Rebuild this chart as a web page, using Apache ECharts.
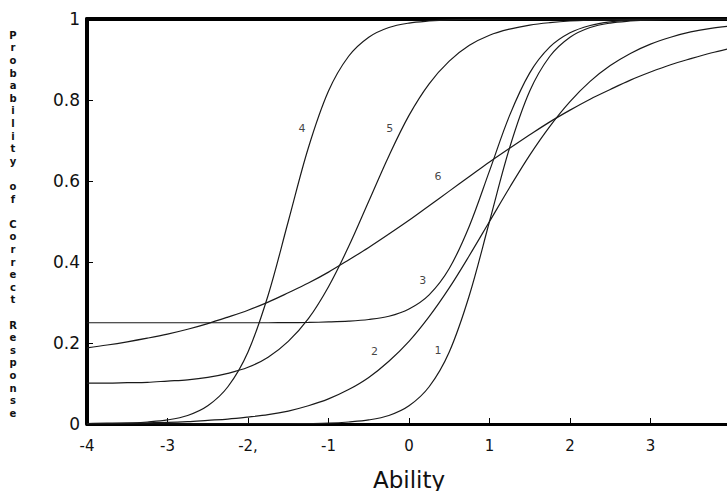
<!DOCTYPE html>
<html>
<head>
<meta charset="utf-8">
<script src="https://cdn.jsdelivr.net/npm/echarts@6/dist/echarts.min.js"></script>
<style>
html,body{margin:0;padding:0;background:#fff;}
#chart{width:727px;height:491px;}
</style>
</head>
<body>
<div id="chart"></div>
<script>
// Ability grid (x values of the sampled points)
var theta = [-4,-3.75,-3.5,-3.25,-3,-2.75,-2.5,-2.25,-2,-1.75,-1.5,-1.25,-1,-0.75,-0.5,-0.25,0,0.25,0.5,0.75,1,1.25,1.5,1.75,2,2.25,2.5,2.75,3,3.25,3.5,3.75,4];

// Probability of correct response
var item1 = [0,0,0,0,0,0,0,0,0.0001,0.0002,0.0005,0.001,0.002,0.005,0.010,0.021,0.045,0.092,0.178,0.318,0.5,0.682,0.822,0.908,0.955,0.979,0.990,0.995,0.998,0.999,0.9995,1,1];
var item2 = [0.001,0.002,0.002,0.003,0.004,0.006,0.009,0.012,0.017,0.023,0.032,0.045,0.062,0.085,0.115,0.155,0.204,0.265,0.336,0.416,0.5,0.584,0.664,0.735,0.796,0.846,0.885,0.915,0.938,0.955,0.968,0.977,0.983];
var item3 = [0.25,0.25,0.25,0.25,0.25,0.25,0.25,0.25,0.25,0.25,0.2504,0.2508,0.252,0.254,0.258,0.266,0.284,0.319,0.384,0.489,0.625,0.762,0.867,0.931,0.966,0.984,0.993,0.997,0.998,0.999,1,1,1];
var item4 = [0.0005,0.001,0.002,0.005,0.010,0.021,0.045,0.092,0.178,0.318,0.5,0.682,0.822,0.908,0.955,0.979,0.990,0.995,0.998,0.999,0.9995,1,1,1,1,1,1,1,1,1,1,1,1];
var item5 = [0.101,0.101,0.102,0.103,0.106,0.109,0.115,0.125,0.140,0.165,0.204,0.260,0.339,0.438,0.55,0.662,0.762,0.840,0.896,0.935,0.960,0.975,0.985,0.991,0.995,0.997,0.998,0.999,0.999,1,1,1,1];
var item6 = [0.188,0.195,0.203,0.212,0.222,0.234,0.248,0.264,0.281,0.301,0.324,0.348,0.375,0.405,0.436,0.469,0.503,0.539,0.575,0.611,0.647,0.681,0.714,0.746,0.775,0.802,0.826,0.849,0.869,0.887,0.902,0.916,0.928];

// Curve number labels: [ability, probability, text]
var curveLabels = [[0.36,0.181,'1'],[-0.43,0.179,'2'],[0.17,0.354,'3'],[-1.33,0.73,'4'],[-0.24,0.73,'5'],[0.36,0.612,'6']];

// Tick labels (the label at 4 falls outside the picture in the reference)
var xTickValues = [-4,-3,-2,-1,0,1,2,3];
var xTickLabels = ['-4','-3','-2,','-1','0','1','2','3'];
var yTickValues = [0,0.2,0.4,0.6,0.8,1];
var yTickLabels = ['0','0.2','0.4','0.6','0.8','1'];

var xTitle = 'Ability';
var yTitle = 'Probability of Correct Response';

var allItems = [item1,item2,item3,item4,item5,item6];

function pairs(arr){
  var out = [];
  for (var i = 0; i < theta.length; i++) out.push([theta[i], arr[i]]);
  return out;
}

var series = allItems.map(function(arr, k){
  return {
    type: 'line',
    name: 'Item ' + (k+1),
    data: pairs(arr),
    smooth: 0.35,
    showSymbol: false,
    symbol: 'none',
    lineStyle: {color: '#1a1a1a', width: 1.2},
    z: 3,
    silent: true,
    animation: false
  };
});

series.push({
  type: 'scatter',
  data: curveLabels,
  symbolSize: 0,
  silent: true,
  animation: false,
  itemStyle: {color: '#111'},
  label: {
    show: true,
    position: 'inside',
    formatter: function(p){ return p.value[2]; },
    color: '#111',
    fontFamily: 'DejaVu Sans',
    fontSize: 11
  },
  z: 5
});

var chart = echarts.init(document.getElementById('chart'), null, {renderer: 'svg'});
chart.setOption({
  backgroundColor: '#ffffff',
  animation: false,
  grid: {left: 87, top: 19, width: 644, height: 405, containLabel: false, outerBoundsMode: 'none'},
  xAxis: [{
    type: 'value',
    min: -4, max: 4, interval: 1,
    position: 'bottom',
    name: xTitle,
    nameLocation: 'middle',
    nameGap: 44,
    nameTextStyle: {fontFamily: 'DejaVu Sans', fontSize: 23, color: '#111'},
    axisLine: {show: true, onZero: false, lineStyle: {color: '#000', width: 3}},
    axisTick: {show: true, inside: true, length: 6, lineStyle: {color: '#000', width: 1}},
    axisLabel: {
      show: true, margin: 14, color: '#111',
      showMaxLabel: false,
      fontFamily: 'DejaVu Sans', fontSize: 15,
      formatter: function(v){ var i = xTickValues.indexOf(v); return i >= 0 ? xTickLabels[i] : ''; }
    },
    splitLine: {show: false}
  }, {
    type: 'value',
    min: -4, max: 4,
    position: 'top',
    axisLine: {show: true, onZero: false, lineStyle: {color: '#000', width: 4}},
    axisTick: {show: false},
    axisLabel: {show: false},
    splitLine: {show: false}
  }],
  yAxis: {
    type: 'value',
    min: 0, max: 1, interval: 0.2,
    axisLine: {show: true, onZero: false, lineStyle: {color: '#000', width: 4}},
    axisTick: {show: true, inside: true, length: 6, lineStyle: {color: '#000', width: 1}},
    axisLabel: {
      show: true, margin: 7, color: '#111',
      fontFamily: 'DejaVu Sans', fontSize: 17,
      formatter: function(v){
        for (var i = 0; i < yTickValues.length; i++) { if (Math.abs(yTickValues[i]-v) < 1e-9) return yTickLabels[i]; }
        return '';
      }
    },
    splitLine: {show: false}
  },
  graphic: [{
    type: 'text',
    x: 13,
    y: 29,
    silent: true,
    style: {
      text: yTitle.split('').join('\n'),
      font: 'bold 10px "DejaVu Sans"',
      fill: '#111',
      align: 'center',
      verticalAlign: 'top',
      lineHeight: 12.6
    }
  }],
  series: series
});
</script>
</body>
</html>
